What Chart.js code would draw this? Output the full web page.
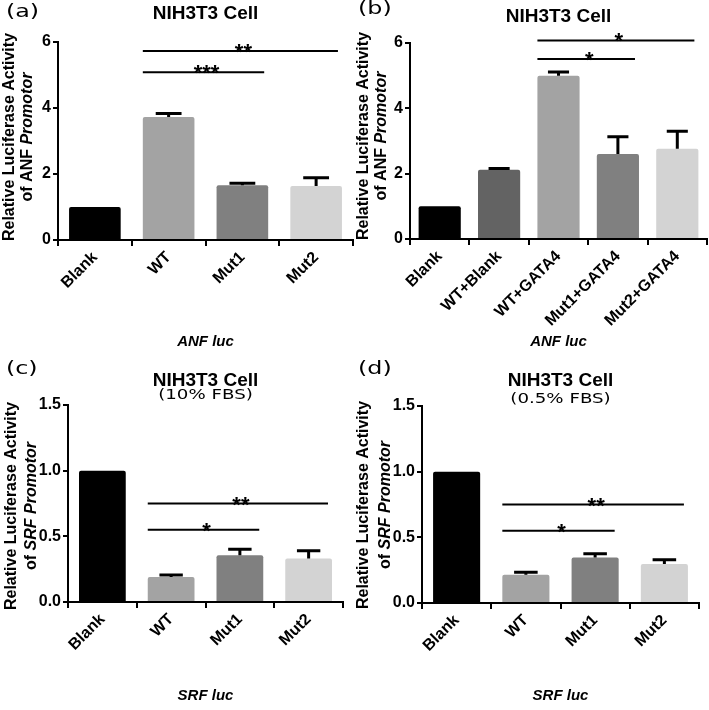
<!DOCTYPE html>
<html>
<head>
<meta charset="utf-8">
<script src="https://cdn.jsdelivr.net/npm/chart.js@4.4.0/dist/chart.umd.min.js"></script>
<style>
  html, body { margin: 0; padding: 0; background: #fff; }
  #wrap { position: relative; width: 709px; height: 710px; }
  canvas { position: absolute; }
</style>
</head>
<body>
<div id="wrap">
  <canvas id="chartA" width="354" height="355" style="left:0;top:0"></canvas>
  <canvas id="chartB" width="355" height="355" style="left:354px;top:0"></canvas>
  <canvas id="chartC" width="354" height="355" style="left:0;top:355px"></canvas>
  <canvas id="chartD" width="355" height="355" style="left:354px;top:355px"></canvas>
</div>
<script>
"use strict";

var FONT = '"Liberation Sans", Arial, Helvetica, sans-serif';
var WIDE_FONT = '"DejaVu Sans", "Liberation Sans", sans-serif';

// constructs
var groupsMut = ['Blank', 'WT', 'Mut1', 'Mut2'];
var groupsGata = ['Blank', 'WT+Blank', 'WT+GATA4', 'Mut1+GATA4', 'Mut2+GATA4'];

// mean and upper error (SEM)
var meanA = [1.0, 3.73, 1.66, 1.64];
var semA = [0, 0.10, 0.06, 0.25];
var meanB = [1.0, 2.12, 5.0, 2.6, 2.76];
var semB = [0, 0.04, 0.11, 0.53, 0.54];
var meanC = [1.0, 0.19, 0.356, 0.331];
var semC = [0, 0.016, 0.045, 0.06];
var meanD = [1.0, 0.215, 0.347, 0.297];
var semD = [0, 0.02, 0.028, 0.033];

var ticksAnf = [0, 2, 4, 6];
var ticksSrf = [0, 0.5, 1.0, 1.5];

// significance bars: from index, to index, height, stars
var sigA = [[1, 2, 5.08, '***'], [1, 3, 5.73, '**']];
var sigB = [[2, 3, 5.51, '*'], [2, 4, 6.08, '*']];
var sigC = [[1, 2, 0.55, '*'], [1, 3, 0.75, '**']];
var sigD = [[1, 2, 0.55, '*'], [1, 3, 0.75, '**']];

var colorsMut = ['#000000', '#a3a3a3', '#808080', '#d3d3d3'];
var colorsGata = ['#000000', '#636363', '#a3a3a3', '#808080', '#d3d3d3'];

Chart.defaults.font.family = FONT;
Chart.defaults.color = '#000';

var panels = [
    {
        id: 'chartA', letter: '(a)', labels: groupsMut, values: meanA, errors: semA,
        colors: colorsMut, ticks: ticksAnf, max: 6, digits: 0, sig: sigA,
        yPlain: 'of ANF ', yItalic: 'Promotor', xTitle: 'ANF luc',
        area: {left: 58, top: 42, right: 1, bottom: 115}, barPct: 0.7, xTitlePad: 4,
        letterPos: [6, 13], titleY: 14, subtitle: null,
        yTitleX: [10, 28], yTitleC: 137
    },
    {
        id: 'chartB', letter: '(b)', labels: groupsGata, values: meanB, errors: semB,
        colors: colorsGata, ticks: ticksAnf, max: 6, digits: 0, sig: sigB,
        yPlain: 'of ANF ', yItalic: 'Promotor', xTitle: 'ANF luc',
        area: {left: 56, top: 43, right: 2, bottom: 116}, barPct: 0.71, xTitlePad: 4,
        letterPos: [4, 10], titleY: 17, subtitle: null,
        yTitleX: [10, 28], yTitleC: 136
    },
    {
        id: 'chartC', letter: '(c)', labels: groupsMut, values: meanC, errors: semC,
        colors: colorsMut, ticks: ticksSrf, max: 1.5, digits: 1, sig: sigC,
        yPlain: 'of ', yItalic: 'SRF Promotor', xTitle: 'SRF luc',
        area: {left: 68, top: 50, right: 11, bottom: 108}, barPct: 0.68, xTitlePad: 5,
        letterPos: [6, 15], titleY: 26, subtitle: '(10% FBS)', subtitleY: 40,
        yTitleX: [12, 32], yTitleC: 151
    },
    {
        id: 'chartD', letter: '(d)', labels: groupsMut, values: meanD, errors: semD,
        colors: colorsMut, ticks: ticksSrf, max: 1.5, digits: 1, sig: sigD,
        yPlain: 'of ', yItalic: 'SRF Promotor', xTitle: 'SRF luc',
        area: {left: 68, top: 51, right: 10, bottom: 107}, barPct: 0.68, xTitlePad: 5,
        letterPos: [4, 15], titleY: 26, subtitle: '(0.5% FBS)', subtitleY: 44,
        yTitleX: [10, 32], yTitleC: 150
    }
];

function drawStretched(ctx, text, x, y, size, sx, align) {
    ctx.save();
    ctx.translate(x, y);
    ctx.scale(sx, 1);
    ctx.font = 'normal ' + size + 'px ' + WIDE_FONT;
    ctx.textAlign = align;
    ctx.textBaseline = 'middle';
    ctx.fillStyle = '#000';
    ctx.fillText(text, 0, 0);
    ctx.restore();
}

// error bars (upper only), significance bars and panel texts
var annotations = {
    id: 'annotations',
    afterDraw: function (chart) {
        var p = chart.options.plugins.annotations.panel;
        var ctx = chart.ctx;
        var yScale = chart.scales.y;
        var bars = chart.getDatasetMeta(0).data;
        var area = chart.chartArea;
        var midX = (area.left + area.right) / 2;

        ctx.save();
        ctx.strokeStyle = '#000';
        ctx.fillStyle = '#000';
        ctx.lineCap = 'butt';

        bars.forEach(function (bar, i) {
            if (!p.errors[i]) {
                return;
            }
            var top = yScale.getPixelForValue(p.values[i] + p.errors[i]);
            var half = bar.width / 4;
            ctx.lineWidth = 3;
            ctx.beginPath();
            ctx.moveTo(bar.x, bar.y);
            ctx.lineTo(bar.x, top);
            ctx.moveTo(bar.x - half, top);
            ctx.lineTo(bar.x + half, top);
            ctx.stroke();
        });

        p.sig.forEach(function (s) {
            var a = bars[s[0]], b = bars[s[1]];
            var x0 = a.x - a.width / 2;
            var x1 = b.x + b.width / 2 - 4;
            var y = yScale.getPixelForValue(s[2]);
            ctx.lineWidth = 2;
            ctx.beginPath();
            ctx.moveTo(x0, y);
            ctx.lineTo(x1, y);
            ctx.stroke();
            ctx.font = 'bold 22px ' + FONT;
            ctx.textAlign = 'center';
            ctx.textBaseline = 'alphabetic';
            ctx.fillText(s[3], (x0 + x1) / 2 + 3, y + 8);
        });

        drawStretched(ctx, p.letter, p.letterPos[0], p.letterPos[1], 17, 1.4, 'left');

        ctx.font = 'bold 19px ' + FONT;
        ctx.textAlign = 'center';
        ctx.textBaseline = 'middle';
        ctx.fillText('NIH3T3 Cell', midX, p.titleY);
        if (p.subtitle) {
            drawStretched(ctx, p.subtitle, midX, p.subtitleY, 14, 1.3, 'center');
        }

        // y axis title, two lines with italic part
        ctx.save();
        ctx.translate(p.yTitleX[0], p.yTitleC);
        ctx.rotate(-Math.PI / 2);
        ctx.font = 'bold 16px ' + FONT;
        ctx.textAlign = 'center';
        ctx.fillText('Relative Luciferase Activity', 0, 0);
        ctx.restore();

        ctx.save();
        ctx.translate(p.yTitleX[1], p.yTitleC);
        ctx.rotate(-Math.PI / 2);
        var plain = 'bold 16px ' + FONT;
        var ital = 'italic bold 16px ' + FONT;
        ctx.font = plain;
        var w1 = ctx.measureText(p.yPlain).width;
        ctx.font = ital;
        var w2 = ctx.measureText(p.yItalic).width;
        var start = -(w1 + w2) / 2;
        ctx.textAlign = 'left';
        ctx.font = plain;
        ctx.fillText(p.yPlain, start, 0);
        ctx.font = ital;
        ctx.fillText(p.yItalic, start + w1, 0);
        ctx.restore();

        ctx.restore();
    }
};

function makeChart(p) {
    var ctx = document.getElementById(p.id);
    return new Chart(ctx, {
        type: 'bar',
        data: {
            labels: p.labels,
            datasets: [{
                data: p.values,
                backgroundColor: p.colors,
                borderWidth: 0,
                borderRadius: 2,
                barPercentage: p.barPct,
                categoryPercentage: 1.0
            }]
        },
        options: {
            responsive: false,
            animation: false,
            layout: {
                padding: {left: 0, top: p.area.top, right: p.area.right, bottom: 0}
            },
            plugins: {
                legend: {display: false},
                tooltip: {enabled: false},
                annotations: {panel: p}
            },
            scales: {
                x: {
                    afterFit: function (s) { s.height = p.area.bottom; },
                    grid: {
                        display: true, drawOnChartArea: false, drawTicks: true,
                        tickLength: 6, color: '#000', lineWidth: 2
                    },
                    border: {display: true, color: '#000', width: 2},
                    ticks: {
                        maxRotation: 45, minRotation: 45, padding: 2,
                        font: {size: 16, weight: 'bold'}, color: '#000'
                    },
                    title: {
                        display: true, text: p.xTitle,
                        font: {size: 15, weight: 'bold', style: 'italic'},
                        padding: {top: 0, bottom: p.xTitlePad}
                    }
                },
                y: {
                    min: 0,
                    max: p.max,
                    afterFit: function (s) { s.width = p.area.left; },
                    afterBuildTicks: function (s) {
                        s.ticks = p.ticks.map(function (v) { return {value: v}; });
                    },
                    grid: {
                        display: true, drawOnChartArea: false, drawTicks: true,
                        tickLength: 5, color: '#000', lineWidth: 2
                    },
                    border: {display: true, color: '#000', width: 2},
                    ticks: {
                        padding: 2,
                        font: {size: 16, weight: 'bold'}, color: '#000',
                        callback: function (v) { return Number(v).toFixed(p.digits); }
                    }
                }
            }
        },
        plugins: [annotations]
    });
}

panels.forEach(makeChart);
</script>
</body>
</html>
